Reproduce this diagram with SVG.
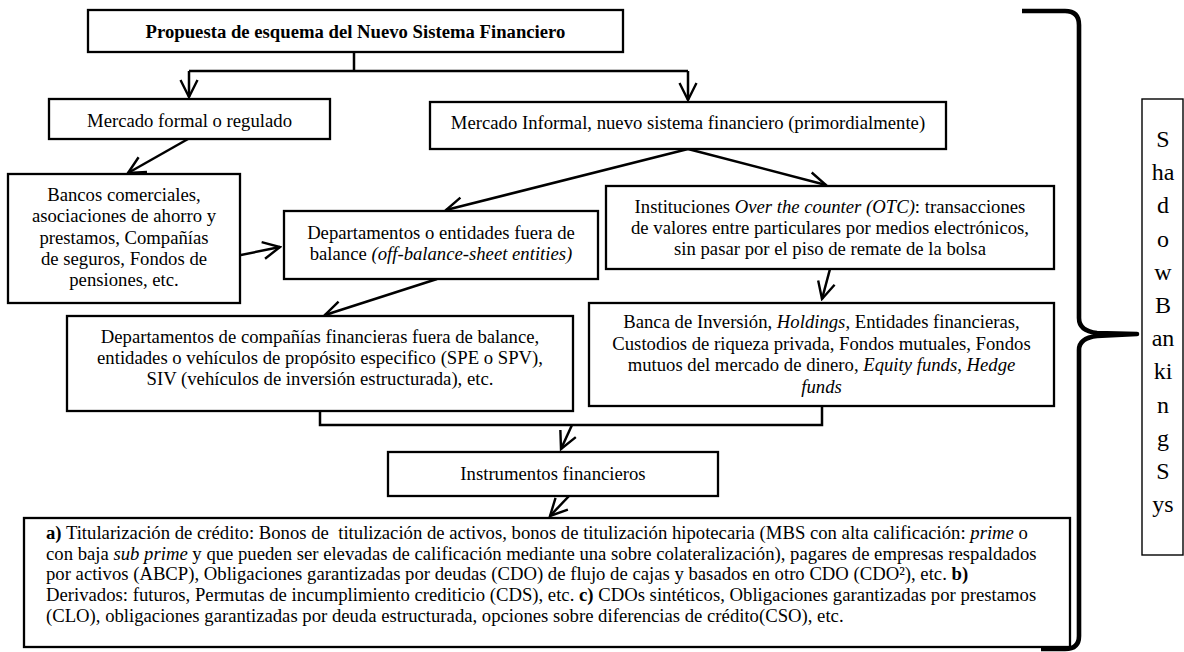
<svg xmlns="http://www.w3.org/2000/svg" width="1184" height="652" viewBox="0 0 1184 652">
<defs>
<style>
.box{fill:#fff;stroke:#000;stroke-width:2.3}
.thin{fill:#fff;stroke:#000;stroke-width:1.4}
text{font-family:"Liberation Serif","Times New Roman",serif;font-size:18.7px;fill:#000}
.c{text-anchor:middle}
.b{font-weight:bold}
.i{font-style:italic}
.big{font-size:24px}
.con{fill:none;stroke:#000;stroke-width:2.5}
.brace{fill:none;stroke:#000;stroke-width:4.6;stroke-linejoin:round}
</style>
<marker id="ah" viewBox="0 0 20 20" refX="18" refY="10" markerWidth="20" markerHeight="20" markerUnits="userSpaceOnUse" orient="auto">
<path d="M1,1.5 L18,10 L1,18.5" fill="none" stroke="#000" stroke-width="2.4"/>
</marker>
</defs>
<rect width="1184" height="652" fill="#fff"/>

<g id="connectors">
<path class="con" d="M354,52 V71 M189,71 H688"/>
<path class="con" d="M189,71 V97" marker-end="url(#ah)"/>
<path class="con" d="M688,71 V100" marker-end="url(#ah)"/>
<path class="con" d="M188,139 L128,173" marker-end="url(#ah)"/>
<path class="con" d="M236,256 L280,247" marker-end="url(#ah)"/>
<path class="con" d="M688,149 L446,210" marker-end="url(#ah)"/>
<path class="con" d="M688,149 L826,185" marker-end="url(#ah)"/>
<path class="con" d="M830,269 L822,299" marker-end="url(#ah)"/>
<path class="con" d="M437,279 L325,315" marker-end="url(#ah)"/>
<path class="con" d="M320,411 V425 H822 V406"/>
<path class="con" d="M572,425 L561,449" marker-end="url(#ah)"/>
<path class="con" d="M569,496 L550,516" marker-end="url(#ah)"/>
</g>

<g id="titulo">
<rect class="box" x="88" y="10" width="535" height="42"/>
<text class="c b" x="355.5" y="38">Propuesta de esquema del Nuevo Sistema Financiero</text>
</g>

<g id="mercado-formal">
<rect class="box" x="49" y="99" width="281" height="40"/>
<text class="c" x="189.5" y="127">Mercado formal o regulado</text>
</g>

<g id="mercado-informal">
<rect class="box" x="430" y="102" width="516" height="47"/>
<text class="c" x="688" y="129">Mercado Informal, nuevo sistema financiero (primordialmente)</text>
</g>

<g id="bancos">
<rect class="box" x="8" y="174" width="232" height="129"/>
<text class="c" x="124" y="201">Bancos comerciales,</text>
<text class="c" x="124" y="222.3">asociaciones de ahorro y</text>
<text class="c" x="124" y="243.6">prestamos, Compañías</text>
<text class="c" x="124" y="265">de seguros, Fondos de</text>
<text class="c" x="124" y="286.3">pensiones, etc.</text>
</g>

<g id="departamentos-fuera-balance">
<rect class="box" x="284" y="211" width="314" height="68"/>
<text class="c" x="441" y="239">Departamentos o entidades fuera de</text>
<text class="c" x="441" y="260.3">balance <tspan class="i">(off-balance-sheet entities)</tspan></text>
</g>

<g id="otc">
<rect class="box" x="606" y="186" width="448" height="83"/>
<text class="c" x="830" y="212.5">Instituciones <tspan class="i">Over the counter (OTC)</tspan>: transacciones</text>
<text class="c" x="830" y="233.8">de valores entre particulares por medios electrónicos,</text>
<text class="c" x="830" y="255.1">sin pasar por el piso de remate de la bolsa</text>
</g>

<g id="banca-inversion">
<rect class="box" x="589" y="303" width="465" height="103"/>
<text class="c" x="821.5" y="328">Banca de Inversión, <tspan class="i">Holdings</tspan>, Entidades financieras,</text>
<text class="c" x="821.5" y="349.5">Custodios de riqueza privada, Fondos mutuales, Fondos</text>
<text class="c" x="821.5" y="371">mutuos del mercado de dinero, <tspan class="i">Equity funds</tspan>, <tspan class="i">Hedge</tspan></text>
<text class="c i" x="821.5" y="392.5">funds</text>
</g>

<g id="departamentos-spe">
<rect class="box" x="67" y="316" width="506" height="95"/>
<text class="c" x="320" y="343.3">Departamentos de compañías financieras fuera de balance,</text>
<text class="c" x="320" y="364.3">entidades o vehículos de propósito especifico (SPE o SPV),</text>
<text class="c" x="320" y="385.3">SIV (vehículos de inversión estructurada), etc.</text>
</g>

<g id="instrumentos">
<rect class="box" x="388" y="452" width="330" height="44"/>
<text class="c" x="553" y="480">Instrumentos financieros</text>
</g>

<g id="instrumentos-detalle">
<rect class="box" x="24" y="518" width="1046" height="129"/>
<text x="46" y="539" xml:space="preserve"><tspan class="b">a)</tspan> Titularización de crédito: Bonos de  titulización de activos, bonos de titulización hipotecaria (MBS con alta calificación: <tspan class="i">prime</tspan> o</text>
<text x="46" y="559.7">con baja <tspan class="i">sub prime</tspan> y que pueden ser elevadas de calificación mediante una sobre colateralización), pagares de empresas respaldados</text>
<text x="46" y="580.4">por activos (ABCP), Obligaciones garantizadas por deudas (CDO) de flujo de cajas y basados en otro CDO (CDO²), etc. <tspan class="b">b)</tspan></text>
<text x="46" y="601.1">Derivados: futuros, Permutas de incumplimiento crediticio (CDS), etc. <tspan class="b">c)</tspan> CDOs sintéticos, Obligaciones garantizadas por prestamos</text>
<text x="46" y="621.8">(CLO), obligaciones garantizadas por deuda estructurada, opciones sobre diferencias de crédito(CSO), etc.</text>
</g>

<g id="llave">
<path class="brace" d="M1022,11 L1065,11 Q1079,11 1079,25 L1079,318 Q1079,331 1097,333 L1137,334 L1097,336 Q1079,338 1079,350 L1079,636 Q1079,649 1065,649 L1041,649"/>
</g>

<g id="shadow-banking">
<rect class="thin" x="1142" y="99" width="41" height="456"/>
<text class="c big" x="1163" y="147">S</text>
<text class="c big" x="1163" y="180.2">ha</text>
<text class="c big" x="1163" y="213.4">d</text>
<text class="c big" x="1163" y="246.6">o</text>
<text class="c big" x="1163" y="279.8">w</text>
<text class="c big" x="1163" y="313">B</text>
<text class="c big" x="1163" y="346.2">an</text>
<text class="c big" x="1163" y="379.4">ki</text>
<text class="c big" x="1163" y="412.6">n</text>
<text class="c big" x="1163" y="445.8">g</text>
<text class="c big" x="1163" y="479">S</text>
<text class="c big" x="1163" y="512.2">ys</text>
</g>
</svg>
